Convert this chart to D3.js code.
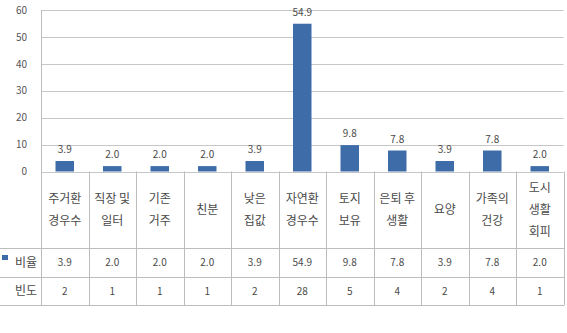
<!DOCTYPE html>
<html>
<head>
<meta charset="utf-8">
<script src="https://cdn.jsdelivr.net/npm/d3@7"></script>
<style>
  body { margin: 0; background: #fff; }
  svg { display: block; }
  text { font-family: "Noto Sans CJK KR", "Noto Sans", sans-serif; }
</style>
</head>
<body>
<svg id="chart" width="567" height="333"></svg>
<script>
const categories = [
  ["주거환", "경우수"],
  ["직장 및", "일터"],
  ["기존", "거주"],
  ["친분"],
  ["낮은", "집값"],
  ["자연환", "경우수"],
  ["토지", "보유"],
  ["은퇴 후", "생활"],
  ["요양"],
  ["가족의", "건강"],
  ["도시", "생활", "회피"]
];
const ratio = [3.9, 2.0, 2.0, 2.0, 3.9, 54.9, 9.8, 7.8, 3.9, 7.8, 2.0];
const freq = [2, 1, 1, 1, 2, 28, 5, 4, 2, 4, 1];
const yTicks = [0, 10, 20, 30, 40, 50, 60];
const seriesName = "비율";
const freqName = "빈도";

const svg = d3.select("#chart");
const plotLeft = 41, plotRight = 563.5, plotTop = 10, zeroY = 171.5;
const row1 = 248.3, row2 = 277, row3 = 305;
const barColor = "#3e6ca8";
const gridColor = "#c6c6c6";
const borderColor = "#bdbdbd";
const textColor = "#4a4a4a";

const x = d3.scaleBand().domain(d3.range(categories.length)).range([plotLeft, plotRight]).paddingInner(0).paddingOuter(0);
const y = d3.scaleLinear().domain([0, 60]).range([zeroY, plotTop]);

// gridlines
svg.append("g").selectAll("line").data(yTicks).join("line")
  .attr("x1", plotLeft).attr("x2", plotRight)
  .attr("y1", d => Math.round(y(d)) + 0.5).attr("y2", d => Math.round(y(d)) + 0.5)
  .attr("stroke", gridColor).attr("stroke-width", 1);

// y axis via d3 axis
const yAxis = d3.axisLeft(y).tickValues(yTicks).tickSize(0).tickPadding(0).tickFormat(d3.format("d"));
const gy = svg.append("g").attr("transform", `translate(27,0)`).call(yAxis);
gy.select(".domain").remove();
gy.selectAll("text").attr("font-size", 10).attr("fill", "#555").attr("font-family", "'Noto Sans', sans-serif");

// plot left border
svg.append("line").attr("x1", plotLeft + 0.5).attr("x2", plotLeft + 0.5).attr("y1", plotTop).attr("y2", row3)
  .attr("stroke", borderColor);

// bars
const bw = 18.5;
svg.append("g").selectAll("rect").data(ratio).join("rect")
  .attr("x", (d, i) => x(i) + x.bandwidth() / 2 - bw / 2)
  .attr("width", bw)
  .attr("y", d => y(d))
  .attr("height", d => zeroY - y(d))
  .attr("fill", barColor);

// data labels
svg.append("g").selectAll("text").data(ratio).join("text")
  .attr("x", (d, i) => x(i) + x.bandwidth() / 2)
  .attr("y", d => y(d) - 8)
  .attr("text-anchor", "middle")
  .attr("font-size", 10)
  .attr("fill", textColor)
  .attr("font-family", "'Noto Sans', sans-serif")
  .text(d => d3.format(".1f")(d));

// table: vertical lines
const bounds = categories.map((c, i) => x(i)).concat([plotRight]);
svg.append("g").selectAll("line").data(bounds).join("line")
  .attr("x1", d => Math.round(d) + 0.5).attr("x2", d => Math.round(d) + 0.5)
  .attr("y1", zeroY).attr("y2", row3)
  .attr("stroke", borderColor);

// table: horizontal lines
svg.append("g").selectAll("line").data([row1, row2, row3]).join("line")
  .attr("x1", 0).attr("x2", Math.round(plotRight) + 0.5)
  .attr("y1", d => Math.round(d) + 0.5).attr("y2", d => Math.round(d) + 0.5)
  .attr("stroke", borderColor);

// category labels
const lineH = 22;
const catMid = (zeroY + row1) / 2;
const cg = svg.append("g").selectAll("text").data(categories).join("text")
  .attr("x", (d, i) => x(i) + x.bandwidth() / 2)
  .attr("text-anchor", "middle")
  .attr("font-size", 12)
  .attr("fill", textColor);
cg.each(function(d, i) {
  const t = d3.select(this);
  const n = d.length;
  d.forEach((s, k) => {
    t.append("tspan")
      .attr("x", x(i) + x.bandwidth() / 2)
      .attr("y", catMid + (k - (n - 1) / 2) * lineH)
      .attr("dy", "0.35em")
      .text(s);
  });
});

// ratio row
svg.append("g").selectAll("text").data(ratio).join("text")
  .attr("x", (d, i) => x(i) + x.bandwidth() / 2)
  .attr("y", (row1 + row2) / 2).attr("dy", "0.35em")
  .attr("text-anchor", "middle").attr("font-size", 10).attr("fill", textColor)
  .attr("font-family", "'Noto Sans', sans-serif")
  .text(d => d3.format(".1f")(d));

// freq row
svg.append("g").selectAll("text").data(freq).join("text")
  .attr("x", (d, i) => x(i) + x.bandwidth() / 2)
  .attr("y", (row2 + row3) / 2).attr("dy", "0.35em")
  .attr("text-anchor", "middle").attr("font-size", 10).attr("fill", textColor)
  .attr("font-family", "'Noto Sans', sans-serif")
  .text(d => d);

// row headers
svg.append("rect").attr("x", 2).attr("y", 255).attr("width", 6).attr("height", 5).attr("fill", barColor);
svg.append("text").attr("x", 37).attr("y", (row1 + row2) / 2).attr("dy", "0.35em")
  .attr("text-anchor", "end").attr("font-size", 12).attr("fill", textColor).text(seriesName);
svg.append("text").attr("x", 37).attr("y", (row2 + row3) / 2).attr("dy", "0.35em")
  .attr("text-anchor", "end").attr("font-size", 12).attr("fill", textColor).text(freqName);
</script>
</body>
</html>
